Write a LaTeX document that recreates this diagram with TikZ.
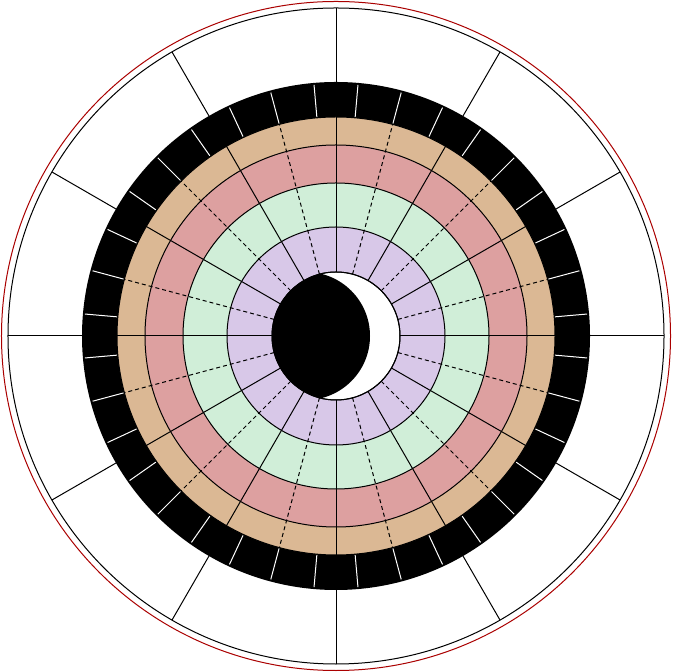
\documentclass[tikz,border=0pt]{standalone}
\usepackage{xcolor}
\usepackage{tikz}
\definecolor{ringtan}{RGB}{219,184,148}
\definecolor{ringpink}{RGB}{221,160,160}
\definecolor{ringgreen}{RGB}{208,238,216}
\definecolor{ringlilac}{RGB}{216,200,232}
\definecolor{rimred}{RGB}{170,0,0}

\begin{document}
\begin{tikzpicture}[x=0.5pt, y=0.5pt, line width=0.5pt]
      \useasboundingbox (-336,-336) rectangle (336,336);

      % Outer rims
      \draw[rimred] (0,0) circle (334.5);
      \draw[black, fill=white] (0,0) circle (328);

      % Black band
      \fill[black] (0,0) circle (254);

      % Coloured rings, outside in
      \draw[fill=ringtan] (0,0) circle (219);
      \draw[fill=ringpink] (0,0) circle (191);
      \draw[fill=ringgreen] (0,0) circle (153);
      \draw[fill=ringlilac] (0,0) circle (109);
      \draw[fill=white] (0,0) circle (64);

      % Moon in the middle
      \begin{scope}
        \clip (0,0) circle (64);
        \fill[black] (-30,0) circle (64);
      \end{scope}
      \draw (0,0) circle (64);

      % Solid spokes every 30 degrees
      \foreach \angle in {0,30,...,330} {
        \draw (\angle:64) -- (\angle:328);
      }

      % Dashed spokes in between
      \foreach \angle in {15,45,...,345} {
        \draw[dash pattern=on 2pt off 1.5pt] (\angle:64) -- (\angle:219);
      }

      % White ticks on the black band
      \foreach \angle in {5,15,...,355} {
        \draw[white] (\angle:220) -- (\angle:252);
      }

    \end{tikzpicture}
\end{document}
